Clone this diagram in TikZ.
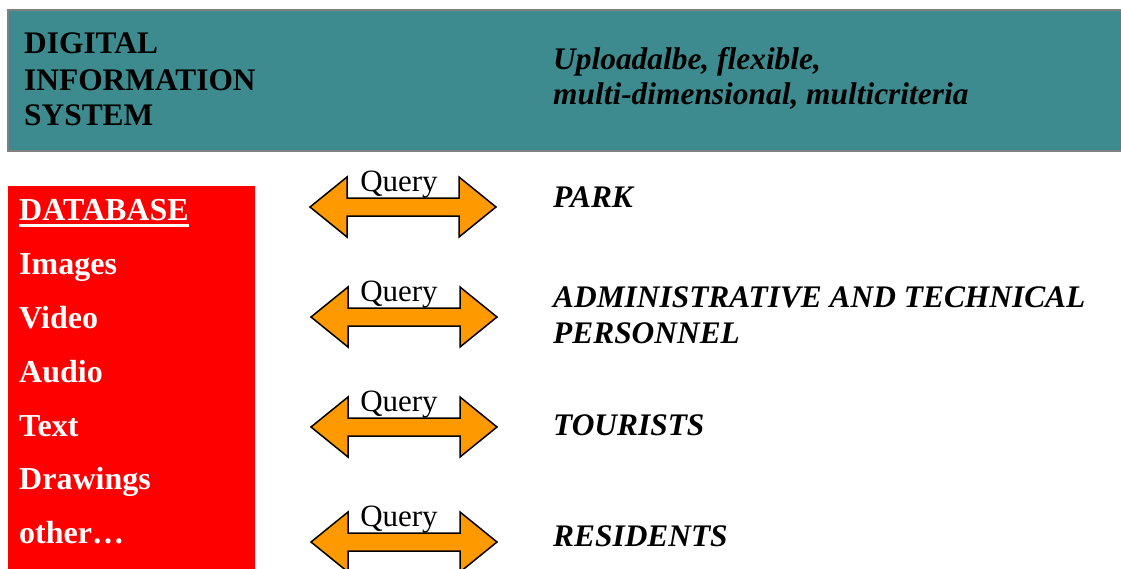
\documentclass[tikz,border=0pt]{standalone}
\usepackage{fontspec}
\setmainfont{Liberation Serif}
\definecolor{headteal}{HTML}{3D8B8E}
\definecolor{dbred}{HTML}{FF0000}
\definecolor{queryorange}{HTML}{FF9900}
\tikzset{
  headtext/.style={font=\fontsize{31.4}{36}\selectfont\bfseries, anchor=base west, inner sep=0pt, text=black},
  headnote/.style={font=\fontsize{31.4}{36}\selectfont\bfseries\itshape, anchor=base west, inner sep=0pt, text=black},
  dbtext/.style={font=\fontsize{32}{36}\selectfont\bfseries, anchor=base west, inner sep=0pt, text=white},
  grouptext/.style={font=\fontsize{31.4}{36}\selectfont\bfseries\itshape, anchor=base west, inner sep=0pt, text=black},
  querytext/.style={font=\fontsize{31}{36}\selectfont, anchor=base, inner sep=0pt, text=black},
  queryarrow/.style={fill=queryorange, draw=black, line width=1.5pt, line join=miter}
}
\begin{document}
\begin{tikzpicture}[x=1pt,y=1pt]
    \useasboundingbox (0,0) rectangle (1121,-568);
    % header band
    \filldraw[fill=headteal, draw=gray, line width=2pt] (8,-10) rectangle (1140,-151);
    \node[headtext] (hdigital) at (24,-53) {DIGITAL};
    \node[headtext] (hinfo) at (24,-90) {INFORMATION};
    \node[headtext] (hsystem) at (24,-125) {SYSTEM};
    \node[headnote] (hupload) at (553,-69) {Uploadalbe, flexible,};
    \node[headnote] (hmulti) at (553,-104) {multi-dimensional, multicriteria};

    % database box
    \fill[dbred] (8,-186) rectangle (255,-580);
    \node[dbtext] (dbhead) at (19,-220) {DATABASE};
    \draw[white, line width=3pt] ([yshift=-5.5pt]dbhead.base west) -- ([yshift=-5.5pt]dbhead.base east);
    \node[dbtext] (dbimages) at (19,-274) {Images};
    \node[dbtext] (dbvideo) at (19,-328) {Video};
    \node[dbtext] (dbaudio) at (19,-382) {Audio};
    \node[dbtext] (dbtextitem) at (19,-436) {Text};
    \node[dbtext] (dbdrawings) at (19,-489) {Drawings};
    \node[dbtext] (dbother) at (19,-543) {other…};

    % query arrows
    \coordinate (qpark) at (310,-207);
    \filldraw[queryarrow] (qpark) -- ++(37,30) -- ++(0,-21) -- ++(112,0) -- ++(0,21) -- ++(37,-30) -- ++(-37,-30) -- ++(0,21) -- ++(-112,0) -- ++(0,-21) -- cycle;
    \node[querytext] (lpark) at (399,-191) {Query};

    \coordinate (qstaff) at (311,-317);
    \filldraw[queryarrow] (qstaff) -- ++(37,30) -- ++(0,-21) -- ++(112,0) -- ++(0,21) -- ++(37,-30) -- ++(-37,-30) -- ++(0,21) -- ++(-112,0) -- ++(0,-21) -- cycle;
    \node[querytext] (lstaff) at (399,-301) {Query};

    \coordinate (qtourists) at (311,-427);
    \filldraw[queryarrow] (qtourists) -- ++(37,30) -- ++(0,-21) -- ++(112,0) -- ++(0,21) -- ++(37,-30) -- ++(-37,-30) -- ++(0,21) -- ++(-112,0) -- ++(0,-21) -- cycle;
    \node[querytext] (ltourists) at (399,-411) {Query};

    \coordinate (qresidents) at (311,-542);
    \filldraw[queryarrow] (qresidents) -- ++(37,30) -- ++(0,-21) -- ++(112,0) -- ++(0,21) -- ++(37,-30) -- ++(-37,-30) -- ++(0,21) -- ++(-112,0) -- ++(0,-21) -- cycle;
    \node[querytext] (lresidents) at (399,-526) {Query};

    % user groups
    \node[grouptext] (gpark) at (553,-207) {PARK};
    \node[grouptext] (gadmin) at (553,-307) {ADMINISTRATIVE AND TECHNICAL};
    \node[grouptext] (gpersonnel) at (553,-343) {PERSONNEL};
    \node[grouptext] (gtourists) at (553,-435) {TOURISTS};
    \node[grouptext] (gresidents) at (553,-546) {RESIDENTS};
\end{tikzpicture}
\end{document}
